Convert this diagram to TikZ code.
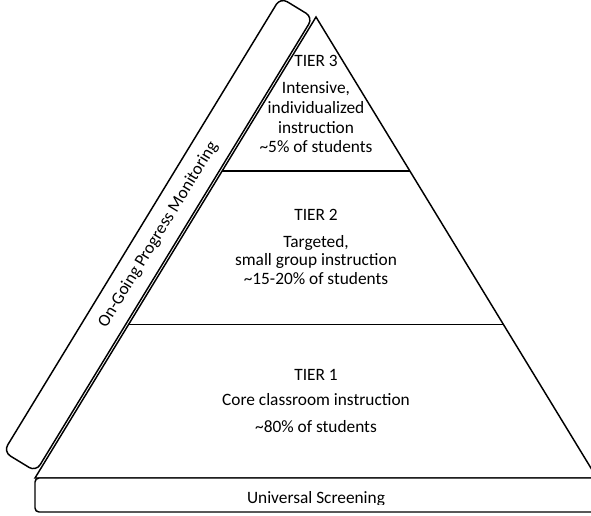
\documentclass[tikz,border=0pt]{standalone}
\usepackage{fontspec}
\setmainfont{Carlito}
\begin{document}
\begin{tikzpicture}[x=0.75pt,y=-0.75pt,line width=1.1pt,
  lbl/.style={anchor=base,inner sep=0pt,font=\fontsize{13}{15.6}\selectfont},
  barbox/.style={draw,rounded corners=6pt,minimum width=399pt,minimum height=28.5pt,inner sep=0pt,fill=white,font=\fontsize{13}{15.6}\selectfont},
  tierline/.style={line width=1.1pt}]
\useasboundingbox (0,0) rectangle (591,515);
\clip (0,0) rectangle (591,515);
% pyramid
\coordinate (apex) at (316,17);
\coordinate (bl) at (35,478);
\coordinate (br) at (597,478);
\coordinate (t3l) at (222.1,171);
\coordinate (t3r) at (409.9,171);
\coordinate (t2l) at (128.6,324.5);
\coordinate (t2r) at (503.4,324.5);
\draw[line join=miter] (apex) -- (bl) -- (br) -- cycle;
\draw[tierline] (t3l) -- (t3r);
\draw[tierline] (t2l) -- (t2r);
% monitoring bar
\node[barbox,rotate=58.63] (pm) at (158.2,234.6) {On-Going Progress Monitoring};
% screening box
\coordinate (s1) at (35,478);
\coordinate (s2) at (612,512);
\draw[rounded corners=3pt,fill=white] (s1) rectangle (s2);
\begin{scope}
\clip (0,0) rectangle (591,504);
\node[lbl] (us) at (316,503) {Universal Screening};
\end{scope}
% tier 3
\node[lbl] (t3a) at (316,66.5) {TIER 3};
\node[lbl] (t3b) at (316,93.5) {Intensive,};
\node[lbl] (t3c) at (316,113.5) {individualized};
\node[lbl] (t3d) at (316,133.5) {instruction};
\node[lbl] (t3e) at (316,152.5) {\textasciitilde5\% of students};
% tier 2
\node[lbl] (t2a) at (316,220.5) {TIER 2};
\node[lbl] (t2b) at (316,247.5) {Targeted,};
\node[lbl] (t2c) at (316,265.5) {small group instruction};
\node[lbl] (t2d) at (316,284.5) {\textasciitilde15-20\% of students};
% tier 1
\node[lbl] (t1a) at (316,380.5) {TIER 1};
\node[lbl] (t1b) at (316,405.5) {Core classroom instruction};
\node[lbl] (t1c) at (316,432.5) {\textasciitilde80\% of students};
\end{tikzpicture}
\end{document}
